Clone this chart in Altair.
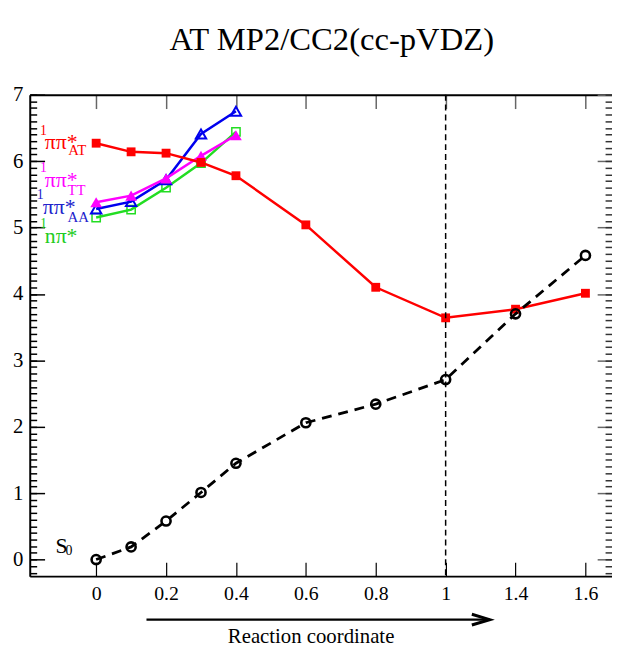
import json
import numpy as np
import pandas as pd
import altair as alt

# ---------------- data ----------------
rc = [0, 0.1, 0.2, 0.3, 0.4, 0.6, 0.8, 1.0, 1.4, 1.6]
s0 = [0.0, 0.19, 0.58, 1.01, 1.45, 2.06, 2.34, 2.71, 3.70, 4.58]
pipi_at = [6.27, 6.14, 6.12, 5.98, 5.78, 5.04, 4.10, 3.64, 3.77, 4.01]

rc_short = [0, 0.1, 0.2, 0.3, 0.4]
pipi_aa = [5.28, 5.39, 5.72, 6.41, 6.75]
pipi_tt = [5.38, 5.48, 5.74, 6.08, 6.39]
npi = [5.15, 5.27, 5.60, 5.97, 6.44]

x_tick_labels = ["0", "0.2", "0.4", "0.6", "0.8", "1", "1.4", "1.6"]
x_tick_values = [0, 0.2, 0.4, 0.6, 0.8, 1.0, 1.4, 1.6]
y_ticks = [0, 1, 2, 3, 4, 5, 6, 7]
marker_line = [1.0]

title_text = "AT MP2/CC2(cc-pVDZ)"
x_title = "Reaction coordinate"

# evenly spaced (broken) reaction-coordinate axis
x_tick_pos = [0.2 * i for i in range(len(x_tick_values))]


def axpos(v):
    return list(np.interp(v, x_tick_values, x_tick_pos))


RED = "#ff0000"
GREEN = "#22dd22"
BLUE = "#0000ee"
MAG = "#ff00ff"
SERIF = "Liberation Serif"

W, H = 589, 487
xs = alt.Scale(domain=[-0.19, 1.476], nice=False, zero=False)
ys = alt.Scale(domain=[-0.25, 7.0], nice=False, zero=False)
minor_y = [round(-0.2 + 0.1 * i, 1) for i in range(73)]


def mk(xv, yv):
    return pd.DataFrame({"pos": axpos(xv), "value": yv})


df_s0 = mk(rc, s0)
df_at = mk(rc, pipi_at)
df_aa = mk(rc_short, pipi_aa)
df_tt = mk(rc_short, pipi_tt)
df_n = mk(rc_short, npi)

common = dict(grid=False, title=None)
label_expr = json.dumps(x_tick_labels) + "[round(datum.value*5)]"

ax_x_labels = alt.Axis(orient="bottom", values=x_tick_pos, labelExpr=label_expr,
                       ticks=False, tickSize=0, domain=True, domainColor="black",
                       domainWidth=2, labelFont=SERIF, labelFontSize=20,
                       labelColor="black", labelPadding=8, labelFlush=False,
                       labelOverlap=False, **common)
ax_x_bot_ticks = alt.Axis(orient="top", offset=-H, values=x_tick_pos, labels=False,
                          ticks=True, tickSize=14, tickColor="black", tickWidth=1.2,
                          domain=False, **common)
ax_x_top_ticks = alt.Axis(orient="bottom", offset=-H, values=x_tick_pos, labels=False,
                          ticks=True, tickSize=14, tickColor="#666666", tickWidth=1.5,
                          domain=True, domainColor="black", domainWidth=2, **common)
ax_y_labels = alt.Axis(orient="left", values=y_ticks, ticks=False, tickSize=0,
                       domain=True, domainColor="black", domainWidth=2,
                       labelFont=SERIF, labelFontSize=21, labelColor="black",
                       labelPadding=7, labelFlush=False, labelOverlap=False, **common)
ax_y_left_major = alt.Axis(orient="right", offset=-W, values=y_ticks, labels=False,
                           tickSize=15, tickColor="black", tickWidth=1.5,
                           domain=False, **common)
ax_y_left_minor = alt.Axis(orient="right", offset=-W, values=minor_y, labels=False,
                           tickSize=7, tickColor="black", tickWidth=1.5,
                           domain=False, **common)
ax_y_right_major = alt.Axis(orient="left", offset=-W, values=y_ticks, labels=False,
                            tickSize=15, tickColor="#666666", tickWidth=1.5,
                            domain=False, **common)
ax_y_right_minor = alt.Axis(orient="left", offset=-W, values=minor_y, labels=False,
                            tickSize=7, tickColor="#333333", tickWidth=1.5,
                            domain=False, **common)


def enc(chart, xa=None, ya=None):
    return chart.encode(
        x=alt.X("pos:Q", scale=xs, axis=xa),
        y=alt.Y("value:Q", scale=ys, axis=ya),
    )


layers = []
# green n-pi*
layers.append(enc(alt.Chart(df_n).mark_line(color=GREEN, strokeWidth=2.5),
                  ax_x_labels, ax_y_labels))
layers.append(enc(alt.Chart(df_n).mark_point(shape="square", filled=False, color=GREEN,
                                              size=70, strokeWidth=1.5, opacity=1),
                  ax_x_bot_ticks, ax_y_left_major))
# blue pi-pi* AA
layers.append(enc(alt.Chart(df_aa).mark_line(color=BLUE, strokeWidth=2.5),
                  ax_x_top_ticks, ax_y_left_minor))
layers.append(enc(alt.Chart(df_aa).mark_point(shape="triangle-up", filled=False, color=BLUE,
                                               size=110, strokeWidth=2, opacity=1),
                  None, ax_y_right_major))
# magenta pi-pi* TT
layers.append(enc(alt.Chart(df_tt).mark_line(color=MAG, strokeWidth=2.5),
                  None, ax_y_right_minor))
layers.append(enc(alt.Chart(df_tt).mark_point(shape="triangle-up", filled=True, color=MAG,
                                               size=140, opacity=1)))
# red pi-pi* AT
layers.append(enc(alt.Chart(df_at).mark_line(color=RED, strokeWidth=2.5)))
layers.append(enc(alt.Chart(df_at).mark_point(shape="square", filled=True, color=RED,
                                               size=80, opacity=1)))
# S0
layers.append(enc(alt.Chart(df_s0).mark_line(color="black", strokeWidth=2.8,
                                              strokeDash=[10, 7])))
layers.append(enc(alt.Chart(df_s0).mark_point(shape="circle", filled=False, color="black",
                                               size=85, strokeWidth=2.6, opacity=1)))

# vertical dashed line at reaction coordinate 1
vline = alt.Chart(pd.DataFrame({"pos": axpos(marker_line)})).mark_rule(
    color="black", strokeWidth=1.5, strokeDash=[6, 4]
).encode(x=alt.X("pos:Q", scale=xs, axis=None))
layers.append(vline)

# state labels (text, x, y, font size, colour)
label_specs = [
    ("1", -0.161, 6.40, 14, RED), ("ππ*", -0.147, 6.19, 22, RED), ("AT", -0.080, 6.09, 15, RED),
    ("1", -0.161, 5.84, 14, MAG), ("ππ*", -0.147, 5.61, 22, MAG), ("TT", -0.082, 5.49, 15, MAG),
    ("1", -0.170, 5.43, 14, "#2222cc"), ("ππ*", -0.153, 5.21, 22, "#2222cc"), ("AA", -0.082, 5.09, 15, "#2222cc"),
    ("1", -0.161, 4.99, 14, "#22cc22"), ("nπ*", -0.147, 4.76, 22, "#22cc22"),
    ("S", -0.116, 0.10, 22, "black"), ("0", -0.088, 0.07, 14, "black"),
]
lab_df = pd.DataFrame(label_specs, columns=["text", "pos", "value", "fs", "col"])
labels = alt.Chart(lab_df).mark_text(font=SERIF, align="left", baseline="alphabetic").encode(
    x=alt.X("pos:Q", scale=xs, axis=None),
    y=alt.Y("value:Q", scale=ys, axis=None),
    text="text:N",
    size=alt.Size("fs:Q", scale=None, legend=None),
    color=alt.Color("col:N", scale=None, legend=None),
)
layers.append(labels)

# arrow under the axis, x-axis title and chart title
arrow_df = pd.DataFrame({"pos": [0.144], "pos2": [1.126], "value": [-0.905]})
arrow = alt.Chart(arrow_df).mark_rule(color="black", strokeWidth=2.5).encode(
    x=alt.X("pos:Q", scale=xs, axis=None), x2="pos2:Q",
    y=alt.Y("value:Q", scale=ys, axis=None),
)
head = alt.Chart(arrow_df).mark_point(
    shape="M-1,-0.3L0,0L-1,0.3", filled=False, color="black", size=1300,
    strokeWidth=3, opacity=1,
).encode(
    x=alt.X("pos2:Q", scale=xs, axis=None),
    y=alt.Y("value:Q", scale=ys, axis=None),
)
txt_df = pd.DataFrame({"pos": [0.615, 0.674], "value": [-1.25, 7.67],
                       "text": [x_title, title_text], "fs": [21, 33]})
texts = alt.Chart(txt_df).mark_text(font=SERIF, align="center",
                                    baseline="alphabetic", color="black").encode(
    x=alt.X("pos:Q", scale=xs, axis=None),
    y=alt.Y("value:Q", scale=ys, axis=None),
    text="text:N",
    size=alt.Size("fs:Q", scale=None, legend=None),
)
layers += [arrow, head, texts]

chart = alt.layer(*layers).resolve_axis(x="independent", y="independent").properties(
    width=W, height=H,
    autosize=alt.AutoSizeParams(type="none"),
    padding={"left": 22, "top": 84, "right": 0, "bottom": 72},
).configure_view(stroke=None).configure(background="white")

chart.save("out.html", embed_options={"renderer": "svg", "actions": False})
